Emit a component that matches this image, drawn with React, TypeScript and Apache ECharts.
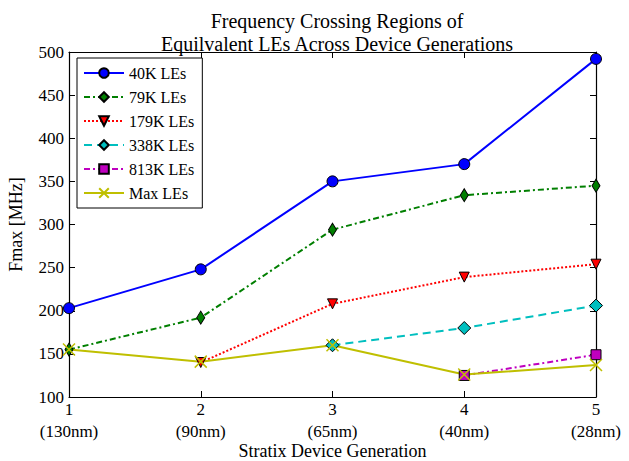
import React, { useEffect, useRef } from "react";
import * as echarts from "echarts";

const generations = [1, 2, 3, 4, 5];
const nodeLabels = ["(130nm)", "(90nm)", "(65nm)", "(40nm)", "(28nm)"];
const le40k = [203, 248, 350, 370, 492];
const le79k = [155, 192, 294, 334, 345];
const le179k = [null, 140, 208, 239, 254];
const le338k = [null, null, 160, 180, 206];
const le813k = [null, null, null, 125, 149];
const maxLEs = [155, 141, 160, 126, 137];
const yTicks = [100, 150, 200, 250, 300, 350, 400, 450, 500];

const FONT = "'Liberation Serif', serif";

function toData(vals: (number | null)[]) {
  return vals.map((v, i) => [generations[i], v]).filter((d) => d[1] !== null);
}

export default function App() {
  const ref = useRef<HTMLDivElement>(null);
  useEffect(() => {
    const chart = echarts.init(ref.current!, null, { renderer: "svg" });
    const markerBorder = { borderColor: "#000", borderWidth: 1 };
    chart.setOption({
      animation: false,
      backgroundColor: "#fff",
      textStyle: { fontFamily: FONT },
      title: {
        text: "Frequency Crossing Regions of\nEquilvalent LEs Across Device Generations",
        left: 332,
        textAlign: "center",
        top: 4,
        textStyle: { fontFamily: FONT, fontWeight: "normal", fontSize: 20, lineHeight: 23, color: "#000" },
      },
      legend: {
        orient: "vertical",
        left: 77,
        top: 58,
        padding: [7, 8, 7, 6],
        itemGap: 8,
        itemWidth: 40,
        itemHeight: 12,
        borderColor: "#000",
        borderWidth: 1,
        backgroundColor: "#fff",
        textStyle: { fontFamily: FONT, fontSize: 16, color: "#000" },
        data: ["40K LEs", "79K LEs", "179K LEs", "338K LEs", "813K LEs", "Max LEs"],
      },
      grid: { left: 69, right: 33, top: 52, bottom: 64, outerBoundsMode: "none", containLabel: false },
      xAxis: [
        {
          type: "value",
          min: 1,
          max: 5,
          interval: 1,
          name: "Stratix Device Generation",
          nameLocation: "middle",
          nameGap: 45,
          nameMoveOverlap: false,
          nameTextStyle: { fontFamily: FONT, fontSize: 18, color: "#000" },
          axisLine: { lineStyle: { color: "#000", width: 1.2 } },
          axisTick: { inside: true, length: 6, lineStyle: { color: "#000" } },
          splitLine: { show: false },
          axisLabel: {
            fontFamily: FONT,
            fontSize: 17,
            color: "#000",
            lineHeight: 22,
            margin: 1,
            formatter: (v: number) => `${v}\n${nodeLabels[generations.indexOf(v)] ?? ""}`,
          },
        },
        {
          type: "value",
          position: "top",
          min: 1,
          max: 5,
          interval: 1,
          axisLine: { lineStyle: { color: "#000", width: 1.2 } },
          axisTick: { inside: true, length: 6, lineStyle: { color: "#000" } },
          axisLabel: { show: false },
          splitLine: { show: false },
        },
      ],
      yAxis: [
        {
          type: "value",
          min: yTicks[0],
          max: yTicks[yTicks.length - 1],
          interval: 50,
          name: "Fmax [MHz]",
          nameLocation: "middle",
          nameGap: 44,
          nameMoveOverlap: false,
          nameTextStyle: { fontFamily: FONT, fontSize: 18, color: "#000" },
          axisLine: { show: true, lineStyle: { color: "#000", width: 1.2 } },
          axisTick: { show: true, inside: true, length: 6, lineStyle: { color: "#000" } },
          splitLine: { show: false },
          axisLabel: { fontFamily: FONT, fontSize: 17, color: "#000", margin: 5 },
        },
        {
          type: "value",
          position: "right",
          min: yTicks[0],
          max: yTicks[yTicks.length - 1],
          interval: 50,
          axisLine: { show: true, lineStyle: { color: "#000", width: 1.2 } },
          axisTick: { show: true, inside: true, length: 6, lineStyle: { color: "#000" } },
          axisLabel: { show: false },
          splitLine: { show: false },
        },
      ],
      series: [
        {
          name: "40K LEs",
          type: "line",
          data: toData(le40k),
          symbol: "circle",
          symbolSize: 11,
          showAllSymbol: true,
          color: "#0000ff",
          lineStyle: { color: "#0000ff", width: 2 },
          itemStyle: { color: "#0000ff", ...markerBorder },
        },
        {
          name: "79K LEs",
          type: "line",
          data: toData(le79k),
          symbol: "diamond",
          symbolSize: [8, 13],
          color: "#007f00",
          lineStyle: { color: "#007f00", width: 2, type: [6, 3, 2, 3] },
          itemStyle: { color: "#007f00", ...markerBorder },
        },
        {
          name: "179K LEs",
          type: "line",
          data: toData(le179k),
          symbol: "triangle",
          symbolRotate: 180,
          symbolSize: 10,
          color: "#ff0000",
          lineStyle: { color: "#ff0000", width: 2, type: [2, 2] },
          itemStyle: { color: "#ff0000", ...markerBorder },
        },
        {
          name: "338K LEs",
          type: "line",
          data: toData(le338k),
          symbol: "diamond",
          symbolSize: 13,
          color: "#00bfbf",
          lineStyle: { color: "#00bfbf", width: 2, type: [8, 5] },
          itemStyle: { color: "#00bfbf", ...markerBorder },
        },
        {
          name: "813K LEs",
          type: "line",
          data: toData(le813k),
          symbol: "rect",
          symbolSize: 10,
          color: "#bf00bf",
          lineStyle: { color: "#bf00bf", width: 2, type: [6, 3, 2, 3] },
          itemStyle: { color: "#bf00bf", ...markerBorder },
        },
        {
          name: "Max LEs",
          type: "line",
          data: toData(maxLEs),
          symbol: "path://M0,0L10,10M10,0L0,10",
          symbolSize: 12,
          color: "#bfbf00",
          lineStyle: { color: "#bfbf00", width: 2 },
          itemStyle: { color: "#bfbf00", borderColor: "#bfbf00", borderWidth: 1.5 },
        },
      ],
    });
    return () => chart.dispose();
  }, []);
  return <div ref={ref} style={{ width: 629, height: 461, position: "absolute", left: 0, top: 0 }} />;
}
